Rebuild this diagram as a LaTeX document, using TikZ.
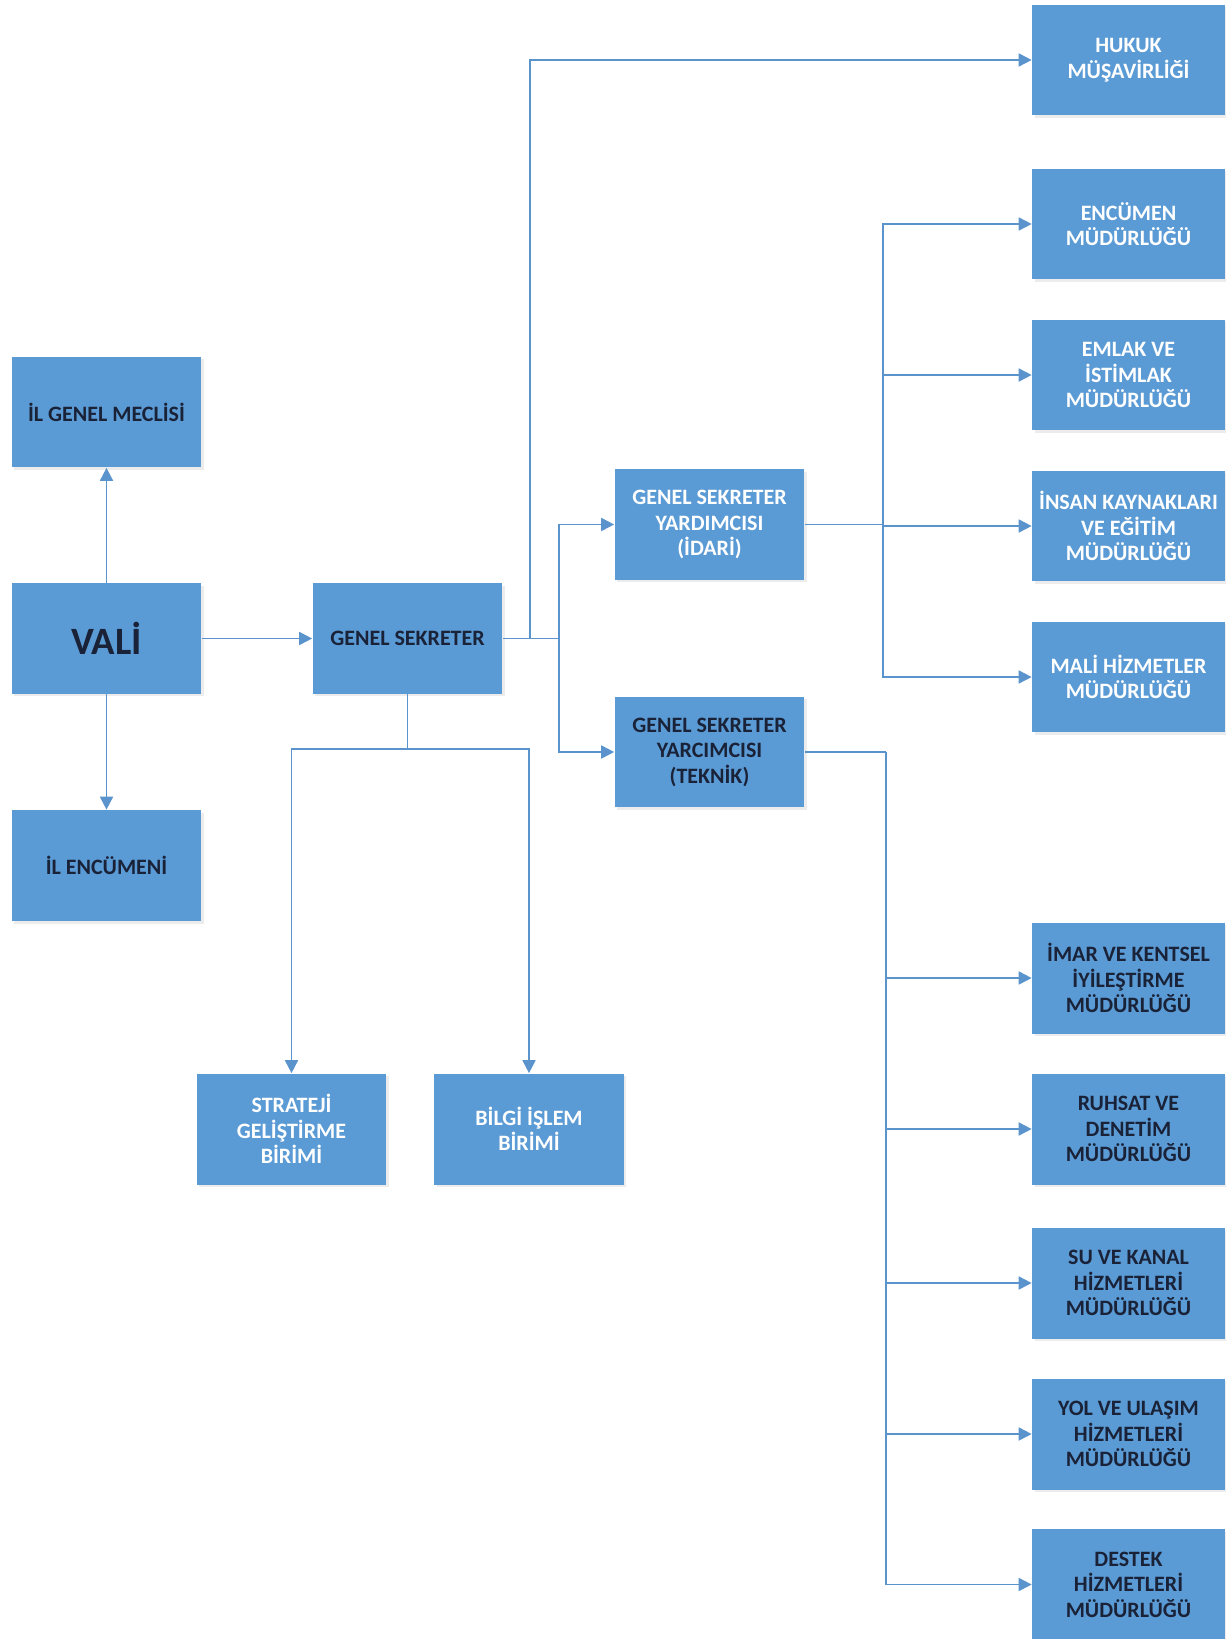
\documentclass[tikz,border=0pt]{standalone}
\usepackage{fontspec}
\setmainfont{Carlito}
\usetikzlibrary{arrows.meta,shadows}
\definecolor{kutumavi}{HTML}{5B9BD5}
\definecolor{cizgi}{HTML}{5B93CC}
\definecolor{lacivert}{HTML}{1A2238}
\tikzset{
  kutu/.style={fill=kutumavi, minimum width=3.8cm, minimum height=2.22cm, align=center, inner sep=2pt,
    font=\fontsize{12.5}{14.5}\selectfont\bfseries, drop shadow={shadow xshift=0.05cm, shadow yshift=-0.05cm, opacity=0.15}},
  koyu/.style={kutu, text=lacivert},
  acik/.style={kutu, text=white},
  genis/.style={minimum width=3.86cm},
  hat/.style={draw=cizgi, line width=1pt},
  ok/.style={hat, -{Triangle[length=0.26cm,width=0.26cm]}}
}
\begin{document}
\begin{tikzpicture}[x=0.02cm,y=-0.02cm]
\useasboundingbox (0,0) rectangle (1226,1639);
\node[koyu] (igm) at (106.5,412) {İL GENEL MECLİSİ};
\node[koyu,font=\fontsize{22}{26}\selectfont\bfseries] (vali) at (106.5,638.5) {VALİ};
\node[koyu] (ilenc) at (106.5,865.5) {İL ENCÜMENİ};
\node[koyu] (gs) at (407.5,638.5) {GENEL SEKRETER};
\node[acik] (idari) at (709.5,524.5) {GENEL SEKRETER\\YARDIMCISI\\(İDARİ)};
\node[koyu] (teknik) at (709.5,752) {GENEL SEKRETER\\YARCIMCISI\\(TEKNİK)};
\node[acik] (strateji) at (291.5,1129) {STRATEJİ\\GELİŞTİRME\\BİRİMİ};
\node[acik] (bilgi) at (529,1129) {BİLGİ İŞLEM\\BİRİMİ};
\node[acik,genis] (hukuk) at (1128.5,60) {HUKUK\\MÜŞAVİRLİĞİ};
\node[acik,genis] (encumen) at (1128.5,224) {ENCÜMEN\\MÜDÜRLÜĞÜ};
\node[acik,genis] (emlak) at (1128.5,375) {EMLAK VE\\İSTİMLAK\\MÜDÜRLÜĞÜ};
\node[acik,genis] (insan) at (1128.5,526) {İNSAN KAYNAKLARI\\VE EĞİTİM\\MÜDÜRLÜĞÜ};
\node[acik,genis] (mali) at (1128.5,677) {MALİ HİZMETLER\\MÜDÜRLÜĞÜ};
\node[koyu,genis] (imar) at (1128.5,978) {İMAR VE KENTSEL\\İYİLEŞTİRME\\MÜDÜRLÜĞÜ};
\node[koyu,genis] (ruhsat) at (1128.5,1129) {RUHSAT VE\\DENETİM\\MÜDÜRLÜĞÜ};
\node[koyu,genis] (su) at (1128.5,1283) {SU VE KANAL\\HİZMETLERİ\\MÜDÜRLÜĞÜ};
\node[koyu,genis] (yol) at (1128.5,1434) {YOL VE ULAŞIM\\HİZMETLERİ\\MÜDÜRLÜĞÜ};
\node[koyu,genis] (destek) at (1128.5,1584.5) {DESTEK\\HİZMETLERİ\\MÜDÜRLÜĞÜ};

\coordinate (hj) at (530,638.5);
\coordinate (gb) at (559,638.5);
\coordinate (ga) at (407.5,749);
\coordinate (ibus) at (883,524.5);
\coordinate (tbus) at (886,752);

\draw[ok] (vali) -- (igm);
\draw[ok] (vali) -- (ilenc);
\draw[ok] (vali) -- (gs);
\draw[ok] (gs.east) -- (hj) |- (hukuk.west);
\draw[hat] (hj) -- (gb);
\draw[ok] (gb) |- (idari.west);
\draw[ok] (gb) |- (teknik.west);
\draw[hat] (gs.south) -- (ga);
\draw[ok] (ga) -| (strateji.north);
\draw[ok] (ga) -| (bilgi.north);
\draw[hat] (idari.east) -- (ibus);
\foreach \b in {encumen,emlak,insan,mali} \draw[ok] (ibus) |- (\b.west);
\draw[hat] (teknik.east) -- (tbus);
\foreach \b in {imar,ruhsat,su,yol,destek} \draw[ok] (tbus) |- (\b.west);
\end{tikzpicture}
\end{document}
